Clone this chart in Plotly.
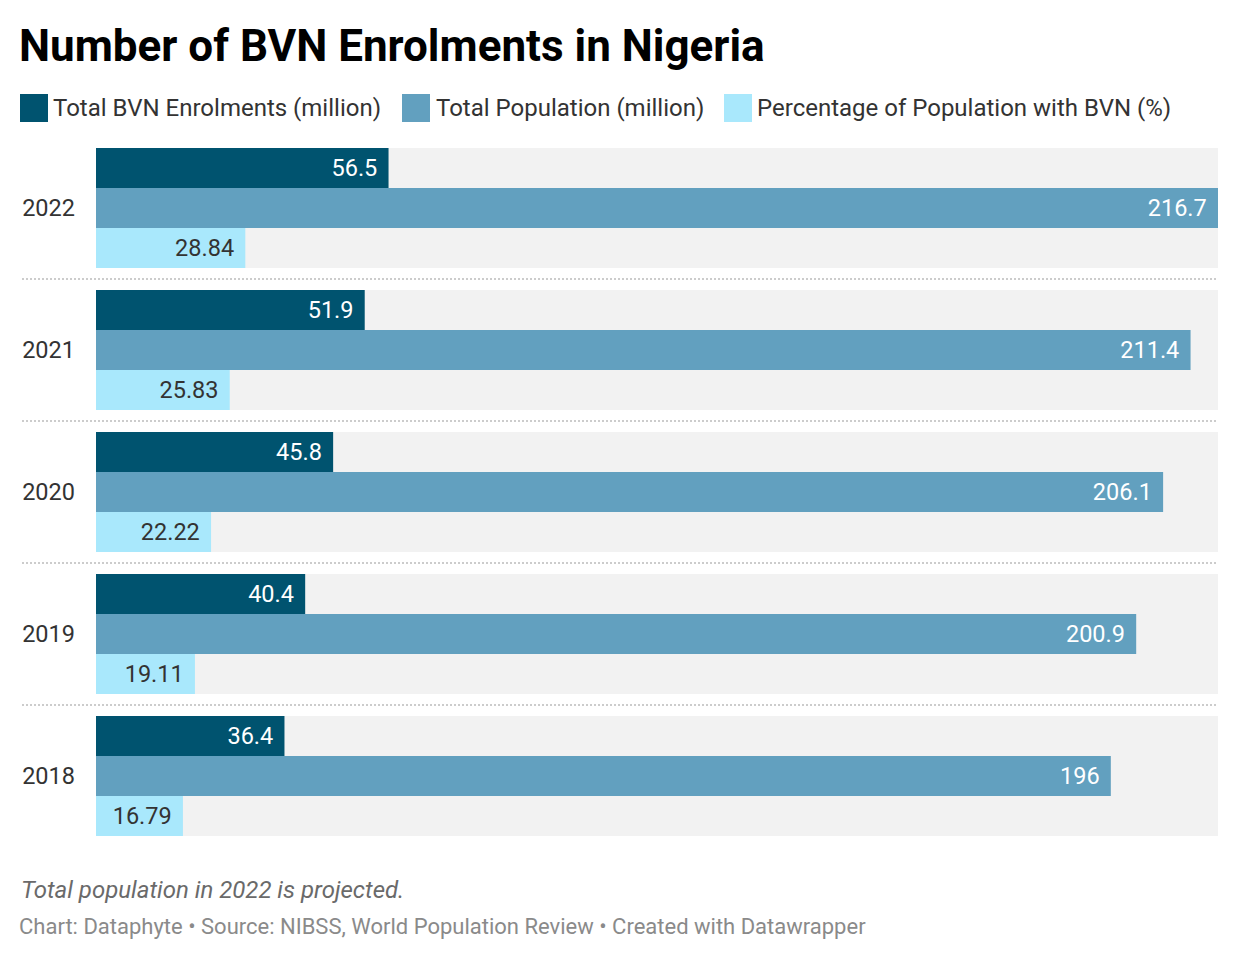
import plotly.graph_objects as go

# ---- data ----
years = ["2022", "2021", "2020", "2019", "2018"]
enrolments = [56.5, 51.9, 45.8, 40.4, 36.4]
population = [216.7, 211.4, 206.1, 200.9, 196]
percentage = [28.84, 25.83, 22.22, 19.11, 16.79]
series_names = [
    "Total BVN Enrolments (million)",
    "Total Population (million)",
    "Percentage of Population with BVN (%)",
]
title_text = "Number of BVN Enrolments in Nigeria"
note_text = "Total population in 2022 is projected."
source_text = "Chart: Dataphyte • Source: NIBSS, World Population Review • Created with Datawrapper"

# ---- style ----
colors = ["#00536f", "#62a0bf", "#a9e8fc"]
label_colors = ["#ffffff", "#ffffff", "#333333"]
FONT = "Roboto"
W, H = 1240, 962
L, R, T, B = 96, 22, 137, 115
PW, PH = W - L - R, H - T - B


def px_x(px):
    return (px - L) / PW


def px_y(py):
    return (H - B - py) / PH


fig = go.Figure()
for name, vals, c, lc in zip(series_names, [enrolments, population, percentage], colors, label_colors):
    fig.add_trace(go.Bar(
        y=years, x=vals, orientation="h", name=name,
        marker=dict(color=c, line=dict(width=0)),
        text=[f"{v:g}\u00a0\u200a" for v in vals],
        textposition="inside", insidetextanchor="end",
        textfont=dict(family=FONT, size=23.5, color=lc),
        showlegend=False, hoverinfo="skip",
    ))

shapes = []
band_half = 60 / 142
for i in range(len(years)):
    shapes.append(dict(type="rect", xref="paper", yref="y", x0=0, x1=1,
                       y0=i - band_half, y1=i + band_half,
                       fillcolor="#f2f2f2", line=dict(width=0), layer="below"))
for i in range(len(years) - 1):
    shapes.append(dict(type="line", xref="paper", yref="y", x0=px_x(22), x1=1,
                       y0=i + 0.5, y1=i + 0.5,
                       line=dict(color="#cccccc", width=2, dash="2px,2px"), layer="below"))

annotations = []
# title
annotations.append(dict(text=f"<b>{title_text}</b>", xref="paper", yref="paper",
                        x=px_x(17), y=px_y(46), xanchor="left", yanchor="middle",
                        showarrow=False, font=dict(family=FONT, size=44, color="#000000")))
# legend
leg_sq = [20, 402, 724]
leg_tx = [51, 434, 755]
for name, c, sx, tx in zip(series_names, colors, leg_sq, leg_tx):
    shapes.append(dict(type="rect", xref="paper", yref="paper",
                       x0=px_x(sx), x1=px_x(sx + 28), y0=px_y(94), y1=px_y(122),
                       fillcolor=c, line=dict(width=0)))
    annotations.append(dict(text=name, xref="paper", yref="paper",
                            x=px_x(tx), y=px_y(108), xanchor="left", yanchor="middle",
                            showarrow=False, font=dict(family=FONT, size=24, color="#333333")))
# footer
annotations.append(dict(text=f"<i>{note_text}</i>", xref="paper", yref="paper",
                        x=px_x(19), y=px_y(890), xanchor="left", yanchor="middle",
                        showarrow=False, font=dict(family=FONT, size=24, color="#6a6a6a")))
annotations.append(dict(text=source_text, xref="paper", yref="paper",
                        x=px_x(17), y=px_y(926), xanchor="left", yanchor="middle",
                        showarrow=False, font=dict(family=FONT, size=22, color="#8a8a8a")))

fig.update_layout(
    width=W, height=H,
    margin=dict(l=L, r=R, t=T, b=B, pad=0),
    paper_bgcolor="#ffffff", plot_bgcolor="#ffffff",
    barmode="group", bargap=22 / 142, bargroupgap=0,
    font=dict(family=FONT, color="#333333"),
    xaxis=dict(range=[0, max(population)], visible=False, fixedrange=True),
    yaxis=dict(type="category", categoryorder="array", categoryarray=years,
               range=[len(years) - 0.5, -0.5], showgrid=False, zeroline=False,
               showline=False, ticks="", ticklabelstandoff=20,
               tickfont=dict(family=FONT, size=23.5, color="#333333"), fixedrange=True),
    shapes=shapes, annotations=annotations,
    showlegend=False,
)

fig.write_html("out.html", config={"displayModeBar": False},
               post_script="document.body.style.margin='0px';document.body.style.padding='0px';")
